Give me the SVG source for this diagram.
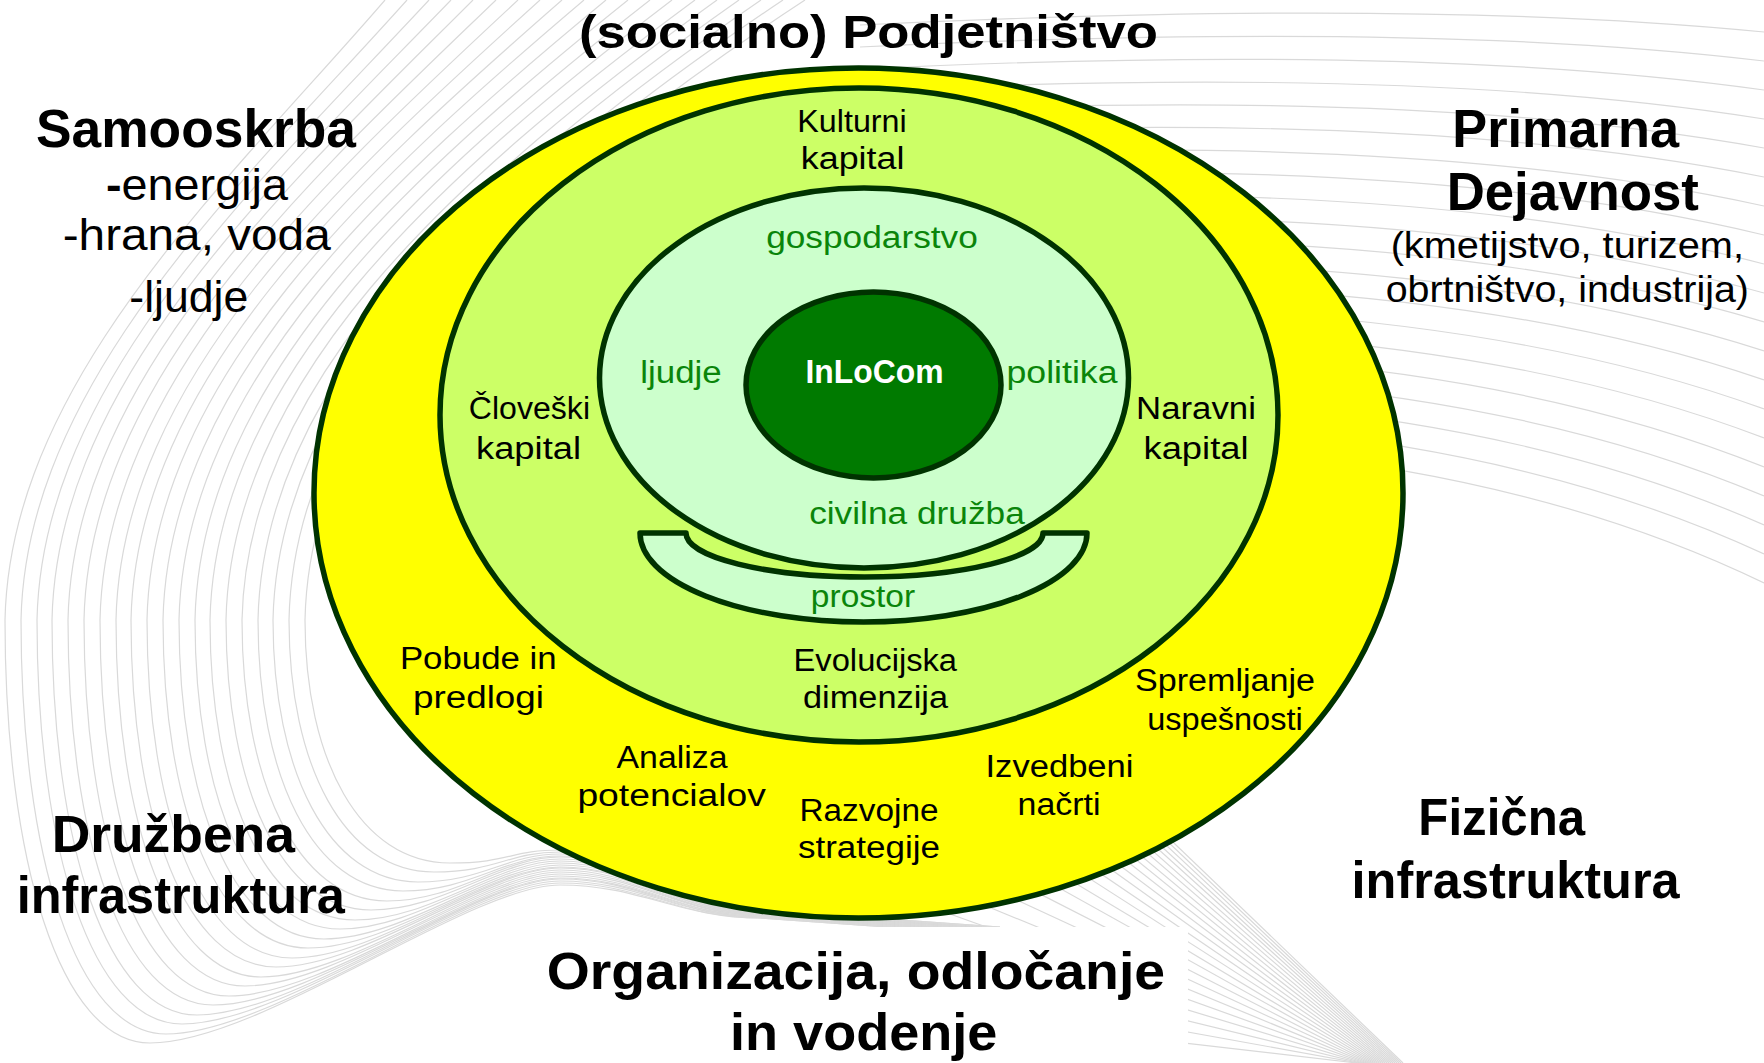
<svg xmlns="http://www.w3.org/2000/svg" width="1764" height="1063" viewBox="0 0 1764 1063">
<style>
.bg path{fill:none;stroke:#d9d9d9;stroke-width:1.2}
.ring{stroke:#003300;stroke-width:5.5;stroke-linejoin:round}
text{font-family:"Liberation Sans",Arial,sans-serif;text-anchor:middle}
.big{font-size:52px;font-weight:bold;fill:#000}
.head{font-size:54px;font-weight:bold;fill:#000}
.title{font-size:46px;font-weight:bold;fill:#000}
.side{font-size:44px;fill:#000}
.paren{font-size:36px;fill:#000}
.lbl{font-size:31px;fill:#000}
.grn{font-size:31px;fill:#0A850A}
.core{font-size:33px;font-weight:bold;fill:#fff}
</style>
<rect x="0" y="0" width="1764" height="1063" fill="#fff"/>
<g id="background" class="bg">
<path d="M385,0 C230,180 10,380 5,620 C5,860 60,1043 150,1043 C260,1043 470,885 560,885 C640,885 680,918 760,918 L1000,935"/>
<path d="M407,0 C246,180 26,380 21,620 C21,855 76,1034 166,1034 C273,1034 472,883 560,883 C640,883 680,918 760,918 L1000,935"/>
<path d="M429,0 C262,180 42,380 37,620 C37,849 92,1024 182,1024 C286,1024 474,881 560,881 C640,881 680,917 760,917 L1000,934"/>
<path d="M451,0 C277,180 57,380 52,620 C52,844 107,1015 197,1015 C300,1015 476,879 560,879 C640,879 680,917 760,917 L1000,934"/>
<path d="M473,0 C293,180 73,380 68,620 C68,839 123,1005 213,1005 C313,1005 478,878 560,878 C640,878 680,916 760,916 L1000,933"/>
<path d="M496,0 C309,180 89,380 84,620 C84,834 139,996 229,996 C326,996 481,876 560,876 C640,876 680,916 760,916 L1000,933"/>
<path d="M518,0 C325,180 105,380 100,620 C100,828 155,986 245,986 C339,986 483,874 560,874 C640,874 680,915 760,915 L1000,932"/>
<path d="M540,0 C341,180 121,380 116,620 C116,823 171,977 261,977 C352,977 485,872 560,872 C640,872 680,915 760,915 L1000,932"/>
<path d="M562,0 C356,180 136,380 131,620 C131,818 186,967 276,967 C365,967 487,870 560,870 C640,870 680,915 760,915 L1000,932"/>
<path d="M584,0 C372,180 152,380 147,620 C147,813 202,958 292,958 C378,958 489,868 560,868 C640,868 680,914 760,914 L1000,931"/>
<path d="M606,0 C388,180 168,380 163,620 C163,807 218,948 308,948 C392,948 491,867 560,867 C640,867 680,914 760,914 L1000,931"/>
<path d="M628,0 C404,180 184,380 179,620 C179,802 234,939 324,939 C405,939 493,865 560,865 C640,865 680,913 760,913 L1000,930"/>
<path d="M650,0 C420,180 200,380 195,620 C195,797 250,929 340,929 C418,929 495,863 560,863 C640,863 680,913 760,913 L1000,930"/>
<path d="M672,0 C436,180 215,380 210,620 C210,792 265,920 355,920 C431,920 497,861 560,861 C640,861 680,912 760,912 L1000,929"/>
<path d="M695,0 C451,180 231,380 226,620 C226,786 281,910 371,910 C444,910 499,859 560,859 C640,859 680,912 760,912 L1000,929"/>
<path d="M717,0 C467,180 247,380 242,620 C242,781 297,901 387,901 C457,901 502,857 560,857 C640,857 680,912 760,912 L1000,929"/>
<path d="M739,0 C483,180 263,380 258,620 C258,776 313,891 403,891 C471,891 504,856 560,856 C640,856 680,911 760,911 L1000,928"/>
<path d="M761,0 C499,180 278,380 273,620 C273,771 328,882 418,882 C484,882 506,854 560,854 C640,854 680,911 760,911 L1000,928"/>
<path d="M783,0 C514,180 294,380 289,620 C289,765 344,872 434,872 C497,872 508,852 560,852 C640,852 680,910 760,910 L1000,927"/>
<path d="M805,0 C530,180 310,380 305,620 C305,760 360,863 450,863 C510,863 510,850 560,850 C640,850 680,910 760,910 L1000,927"/>
<path d="M860,25 Q1420,-2 1764,32"/>
<path d="M860,47 Q1420,20 1764,61"/>
<path d="M860,69 Q1420,42 1764,90"/>
<path d="M860,91 Q1420,64 1764,119"/>
<path d="M860,113 Q1420,86 1764,148"/>
<path d="M860,135 Q1420,108 1764,177"/>
<path d="M860,157 Q1420,130 1764,206"/>
<path d="M860,179 Q1420,152 1764,235"/>
<path d="M860,201 Q1420,174 1764,264"/>
<path d="M860,223 Q1420,196 1764,293"/>
<path d="M860,245 Q1420,218 1764,322"/>
<path d="M860,267 Q1420,240 1764,351"/>
<path d="M860,289 Q1420,262 1764,380"/>
<path d="M860,311 Q1420,284 1764,409"/>
<path d="M860,333 Q1420,306 1764,438"/>
<path d="M860,355 Q1420,328 1764,467"/>
<path d="M860,377 Q1420,350 1764,496"/>
<path d="M860,399 Q1420,372 1764,525"/>
<path d="M860,421 Q1420,394 1764,554"/>
<path d="M860,443 Q1420,416 1764,583"/>
<path d="M950,628 L1403,1063"/>
<path d="M950,635 L1401,1063"/>
<path d="M950,643 L1399,1063"/>
<path d="M950,652 L1397,1063"/>
<path d="M950,661 L1395,1063"/>
<path d="M950,672 L1393,1063"/>
<path d="M950,683 L1391,1063"/>
<path d="M950,696 L1389,1063"/>
<path d="M950,709 L1387,1063"/>
<path d="M950,723 L1385,1063"/>
<path d="M950,738 L1383,1063"/>
<path d="M950,754 L1381,1063"/>
<path d="M950,771 L1379,1063"/>
<path d="M950,789 L1377,1063"/>
<path d="M950,808 L1375,1063"/>
<path d="M950,827 L1373,1063"/>
<path d="M950,848 L1371,1063"/>
<path d="M950,869 L1369,1063"/>
<path d="M950,891 L1367,1063"/>
<path d="M950,914 L1365,1063"/>
<path d="M950,938 L1363,1063"/>
<path d="M950,963 L1361,1063"/>
<path d="M950,989 L1359,1063"/>
<path d="M950,1016 L1357,1063"/>
</g>
<rect id="bottom-panel" x="530" y="927" width="658" height="136" fill="#fff"/>
<g id="ring-outer"><ellipse class="ring" cx="858.5" cy="493" rx="544.5" ry="425" fill="#FFFF00"/></g>
<g id="ring-middle"><ellipse class="ring" cx="859" cy="415" rx="419" ry="327" fill="#CCFF66"/></g>
<g id="ring-inner"><ellipse class="ring" cx="864" cy="378" rx="264.5" ry="190" fill="#CCFFCC"/></g>
<g id="prostor"><path class="ring" fill="#CCFFCC" d="M640,533 L686,533 A178.5,44 0 0 0 1043,533 L1087,533 A223.5,89 0 0 1 640,533 Z"/></g>
<g id="core"><ellipse class="ring" cx="873.5" cy="385" rx="127.5" ry="93" fill="#007A00"/>
<text class="core" x="874.5" y="382.7" textLength="138" lengthAdjust="spacingAndGlyphs">InLoCom</text></g>
<g id="connectors"></g>
<g id="label-podjetnistvo"><text class="title" x="868.5" y="48" textLength="579" lengthAdjust="spacingAndGlyphs">(socialno) Podjetništvo</text></g>
<g id="label-samooskrba">
<text class="head" x="196" y="146.7" textLength="320" lengthAdjust="spacingAndGlyphs">Samooskrba</text>
<text class="side" x="197" y="200" textLength="182" lengthAdjust="spacingAndGlyphs"><tspan font-weight="bold">-</tspan>energija</text>
<text class="side" x="196.7" y="250" textLength="268" lengthAdjust="spacingAndGlyphs">-hrana, voda</text>
<text class="side" x="188.8" y="311.7" textLength="119" lengthAdjust="spacingAndGlyphs">-ljudje</text>
</g>
<g id="label-primarna">
<text class="head" x="1565.7" y="146.7" textLength="226.7" lengthAdjust="spacingAndGlyphs">Primarna</text>
<text class="head" x="1572.8" y="210" textLength="252.3" lengthAdjust="spacingAndGlyphs">Dejavnost</text>
<text class="paren" x="1567.3" y="258.3" textLength="353.3" lengthAdjust="spacingAndGlyphs">(kmetijstvo, turizem,</text>
<text class="paren" x="1567.3" y="301.7" textLength="363.3" lengthAdjust="spacingAndGlyphs">obrtništvo, industrija)</text>
</g>
<g id="label-druzbena">
<text class="big" x="173.3" y="851.7" textLength="243.3" lengthAdjust="spacingAndGlyphs">Družbena</text>
<text class="big" x="180.8" y="913.3" textLength="328.3" lengthAdjust="spacingAndGlyphs">infrastruktura</text>
</g>
<g id="label-fizicna">
<text class="big" x="1501.7" y="835" textLength="166.7" lengthAdjust="spacingAndGlyphs">Fizična</text>
<text class="big" x="1515.6" y="898.3" textLength="328" lengthAdjust="spacingAndGlyphs">infrastruktura</text>
</g>
<g id="label-organizacija">
<text class="big" x="855.9" y="989" textLength="618.3" lengthAdjust="spacingAndGlyphs">Organizacija, odločanje</text>
<text class="big" x="863.7" y="1050" textLength="267.3" lengthAdjust="spacingAndGlyphs">in vodenje</text>
</g>
<g id="label-kulturni"><text class="lbl" x="852" y="131.8" textLength="109.4" lengthAdjust="spacingAndGlyphs">Kulturni</text><text class="lbl" x="852.6" y="169.4" textLength="103.5" lengthAdjust="spacingAndGlyphs">kapital</text></g>
<g id="label-cloveski"><text class="lbl" x="529.4" y="419.2" textLength="121.3" lengthAdjust="spacingAndGlyphs">Človeški</text><text class="lbl" x="528.5" y="458.5" textLength="105" lengthAdjust="spacingAndGlyphs">kapital</text></g>
<g id="label-naravni"><text class="lbl" x="1196" y="419.2" textLength="119.8" lengthAdjust="spacingAndGlyphs">Naravni</text><text class="lbl" x="1196" y="458.5" textLength="105" lengthAdjust="spacingAndGlyphs">kapital</text></g>
<g id="label-evolucijska"><text class="lbl" x="875.3" y="670.6" textLength="163.5" lengthAdjust="spacingAndGlyphs">Evolucijska</text><text class="lbl" x="875.5" y="708.2" textLength="145" lengthAdjust="spacingAndGlyphs">dimenzija</text></g>
<g id="label-pobude"><text class="lbl" x="478.3" y="668.9" textLength="156.8" lengthAdjust="spacingAndGlyphs">Pobude in</text><text class="lbl" x="478.5" y="708.2" textLength="131" lengthAdjust="spacingAndGlyphs">predlogi</text></g>
<g id="label-analiza"><text class="lbl" x="672" y="768.3" textLength="111" lengthAdjust="spacingAndGlyphs">Analiza</text><text class="lbl" x="671.7" y="806.4" textLength="188.6" lengthAdjust="spacingAndGlyphs">potencialov</text></g>
<g id="label-razvojne"><text class="lbl" x="869" y="820.5" textLength="139" lengthAdjust="spacingAndGlyphs">Razvojne</text><text class="lbl" x="869" y="858" textLength="142" lengthAdjust="spacingAndGlyphs">strategije</text></g>
<g id="label-izvedbeni"><text class="lbl" x="1059.5" y="777" textLength="148" lengthAdjust="spacingAndGlyphs">Izvedbeni</text><text class="lbl" x="1059" y="814.8" textLength="83" lengthAdjust="spacingAndGlyphs">načrti</text></g>
<g id="label-spremljanje"><text class="lbl" x="1225" y="691.4" textLength="180" lengthAdjust="spacingAndGlyphs">Spremljanje</text><text class="lbl" x="1225" y="729.5" textLength="155.5" lengthAdjust="spacingAndGlyphs">uspešnosti</text></g>
<g id="label-gospodarstvo"><text class="grn" x="872" y="248" textLength="211.7" lengthAdjust="spacingAndGlyphs">gospodarstvo</text></g>
<g id="label-ljudje"><text class="grn" x="681" y="382.7" textLength="81.4" lengthAdjust="spacingAndGlyphs">ljudje</text></g>
<g id="label-politika"><text class="grn" x="1062" y="382.7" textLength="111" lengthAdjust="spacingAndGlyphs">politika</text></g>
<g id="label-civilna"><text class="grn" x="917" y="523.5" textLength="215.7" lengthAdjust="spacingAndGlyphs">civilna družba</text></g>
<g id="label-prostor"><text class="grn" x="863" y="607" textLength="104.3" lengthAdjust="spacingAndGlyphs">prostor</text></g>
</svg>
